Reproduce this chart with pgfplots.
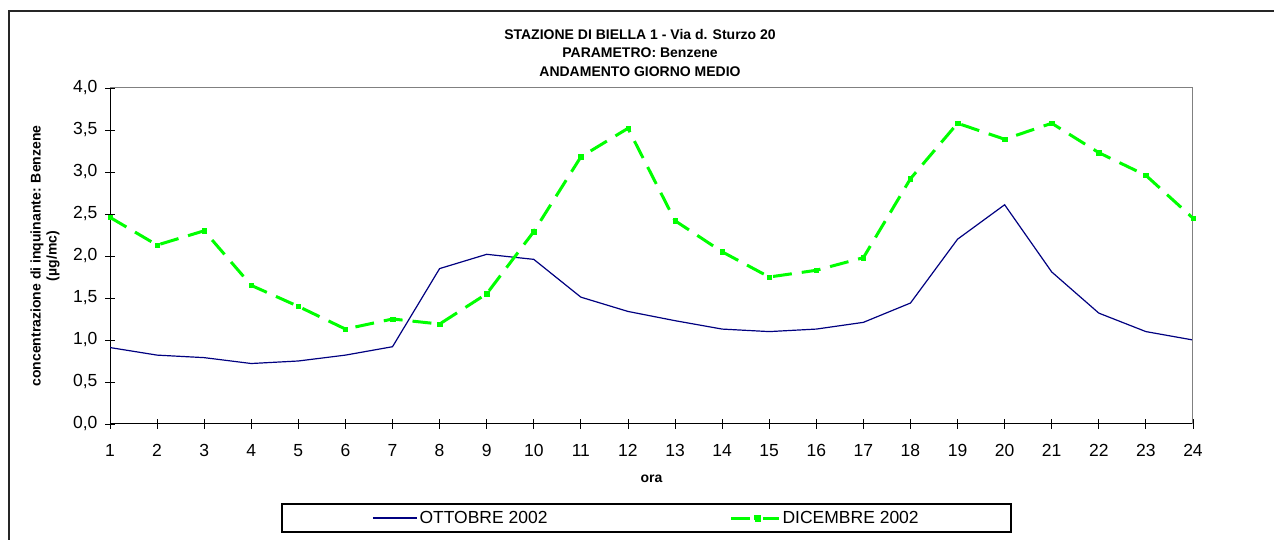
\documentclass[border=0pt]{standalone}
\usepackage{pgfplots}
\pgfplotsset{compat=1.18}
\usepackage{pgfplotstable}
\usepackage{fontspec}
\setmainfont{Liberation Sans}

\definecolor{navyline}{RGB}{0,0,128}
\definecolor{lgreen}{RGB}{0,255,0}

\pgfplotstableread{
ora ott dic
1  0.91 2.46
2  0.82 2.13
3  0.79 2.30
4  0.72 1.65
5  0.75 1.40
6  0.82 1.13
7  0.92 1.25
8  1.85 1.19
9  2.02 1.55
10 1.96 2.29
11 1.51 3.18
12 1.34 3.52
13 1.23 2.42
14 1.13 2.05
15 1.10 1.75
16 1.13 1.83
17 1.21 1.98
18 1.44 2.92
19 2.20 3.58
20 2.61 3.39
21 1.81 3.58
22 1.32 3.23
23 1.10 2.96
24 1.00 2.45
}\datatable

\begin{document}
\begin{tikzpicture}[x=1pt,y=1pt]
\useasboundingbox (0,0) rectangle (1274,540);
\draw[line width=2pt, black!85] (9.2,0) -- (9.2,529) -- (1274,529);

\node[anchor=base, font=\bfseries\fontsize{14}{17}\selectfont] at (640,500.5) {STAZIONE DI BIELLA 1 - Via d. Sturzo 20};
\node[anchor=base, font=\bfseries\fontsize{14}{17}\selectfont] at (640,482) {PARAMETRO: Benzene};
\node[anchor=base, font=\bfseries\fontsize{14}{17}\selectfont] at (640,463.3) {ANDAMENTO GIORNO MEDIO};

\node[anchor=base, font=\bfseries\fontsize{14}{17}\selectfont] at (651.5,57) {ora};
\node[rotate=90, align=center, font=\bfseries\fontsize{14}{16}\selectfont] at (45,284) {concentrazione di inquinante: Benzene\\(µg/mc)};

\begin{axis}[
  at={(110pt,116pt)}, anchor=south west,
  scale only axis, width=1083pt, height=336pt,
  xmin=1, xmax=24, ymin=0, ymax=4,
  xtick={1,...,24},
  ytick={0,0.5,1,1.5,2,2.5,3,3.5,4},
  axis x line*=bottom, axis y line*=left,
  axis line style={black, line width=1pt, -},
  tick align=center, major tick length=10pt,
  tick style={black, line width=0.8pt},
  /pgf/number format/assume math mode=true,
  tick label style={font=\fontsize{17.5}{20}\selectfont},
  xticklabel shift=12pt, yticklabel shift=4pt,
  scaled y ticks=false,
  yticklabel style={/pgf/number format/.cd, fixed, fixed zerofill, precision=1, use comma},
  xticklabel style={/pgf/number format/.cd, fixed, precision=0},
  legend columns=2,
  legend style={at={(0.4954,-0.2798)}, anchor=center, draw=black, line width=2pt,
    font=\fontsize{17.5}{20}\selectfont, inner xsep=90pt, inner ysep=5pt,
    /tikz/every even column/.append style={column sep=180pt}},
]
\addplot[navyline, line width=1.2pt, mark=none,
  legend image code/.code={\draw[navyline, line width=1.2pt] (0pt,0pt) -- (44pt,0pt);}]
  table[x=ora,y=ott]{\datatable};
\addlegendentry{OTTOBRE 2002}
\addplot[lgreen, line width=3pt, dash pattern=on 19pt off 10pt, mark=square*, mark size=2.2pt,
  mark options={solid, line width=0.4pt},
  legend image code/.code={\draw[lgreen, line width=3pt] (0pt,0pt) -- (21pt,0pt) (32pt,0pt) -- (48pt,0pt);
    \fill[lgreen] (24pt,-2pt) rectangle (28pt,2pt);}]
  table[x=ora,y=dic]{\datatable};
\addlegendentry{DICEMBRE 2002}
\draw[gray, line width=1pt] (rel axis cs:0,1) -- (rel axis cs:1,1) -- (rel axis cs:1,0);
\end{axis}
\end{tikzpicture}
\end{document}
